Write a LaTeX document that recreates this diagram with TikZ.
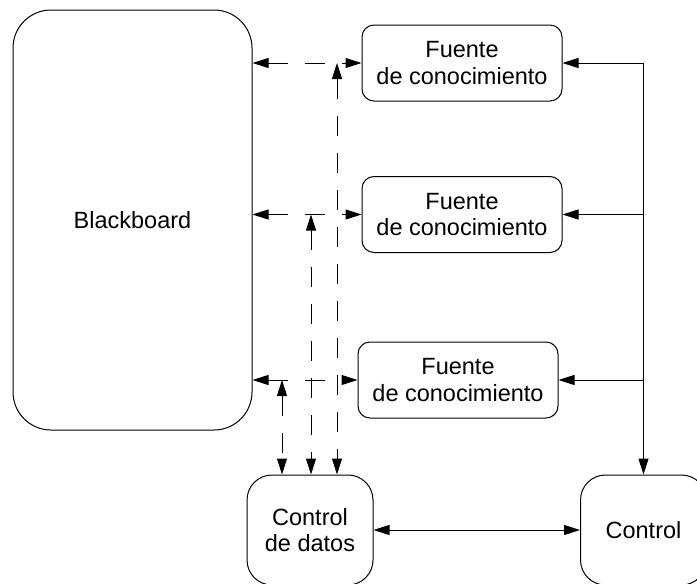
\documentclass[tikz,border=0pt]{standalone}
\usepackage{fontspec}
\setmainfont{Liberation Sans}
\usepackage{tikz}
\usepackage{xcolor}
\usetikzlibrary{shapes.geometric, arrows.meta, positioning, calc}
\tikzstyle{board} = [rectangle, rounded corners=19pt, minimum width=119.5pt, minimum height=210pt,
                     text centered, draw=black, fill=white, line width=0.5pt]
\tikzstyle{source} = [rectangle, rounded corners=6pt, minimum width=100pt, minimum height=38pt,
                      align=center, draw=black, fill=white, line width=0.5pt]
\tikzstyle{ctrlbox} = [rectangle, rounded corners=12.5pt, minimum width=63pt, minimum height=55pt,
                       align=center, draw=black, fill=white, line width=0.5pt]
\tikzstyle{arrow} = [-{Triangle[length=8pt, width=5pt]}, line width=0.5pt]
\tikzstyle{dblarrow} = [{Triangle[length=8pt, width=5pt]}-{Triangle[length=8pt, width=5pt]}, line width=0.5pt]
\tikzstyle{dasharrow} = [dblarrow, dash pattern=on 10pt off 8.5pt]

\begin{document}
\begin{tikzpicture}[x=0.5pt, y=-0.5pt, font=\fontsize{11.75}{13.3}\selectfont]
    \useasboundingbox (0,0) rectangle (697,584);

    \node[board] (bb) at (132.5,220) {Blackboard};

    \node[source] (fc1) at (462,63) {Fuente\\de conocimiento};
    \node[source] (fc2) at (462,214.5) {Fuente\\de conocimiento};
    \node[source] (fc3) at (458,380) {Fuente\\de conocimiento};

    \node[ctrlbox] (datos) at (310,530) {Control\\de datos};
    \node[ctrlbox] (ctrl) at (643.5,530) {Control};

    % blackboard <-> fuentes
    \draw[dasharrow] (bb.east |- fc1.west) -- (fc1.west);
    \draw[dasharrow] (bb.east |- fc2.west) -- (fc2.west);
    \draw[dasharrow] (bb.east |- fc3.west) -- (fc3.west);

    % control de datos <-> lineas
    \coordinate (d1) at (337,63);
    \coordinate (d2) at (311,214.5);
    \coordinate (d3) at (282,380);
    \draw[dasharrow] (d1) -- (d1 |- datos.north);
    \draw[dasharrow] (d2) -- (d2 |- datos.north);
    \draw[dasharrow] (d3) -- (d3 |- datos.north);

    % control -> fuentes
    \draw[arrow] (ctrl.north |- fc1.east) -- (ctrl.north);
    \draw[arrow] (ctrl.north |- fc1.east) -- (fc1.east);
    \draw[arrow] (ctrl.north |- fc2.east) -- (fc2.east);
    \draw[arrow] (ctrl.north |- fc3.east) -- (fc3.east);

    \draw[dblarrow] (datos.east) -- (ctrl.west);
\end{tikzpicture}
\end{document}
